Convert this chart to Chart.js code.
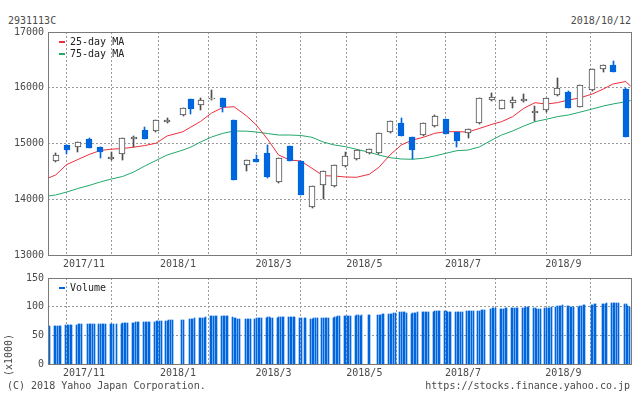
<!DOCTYPE html>
<html>
<head>
<meta charset="utf-8">
<script src="https://cdn.jsdelivr.net/npm/chart.js@4.4.1/dist/chart.umd.min.js"></script>
<style>
    html, body { margin: 0; padding: 0; background: #fff; }
    #wrap {
        position: relative; width: 634px; height: 394px; overflow: hidden;
        font-family: "DejaVu Sans Mono", monospace; font-size: 10px; color: #4a4a4a;
    }
    .txt { position: absolute; line-height: 12px; white-space: nowrap; }
    #priceBox { position: absolute; left: 0; top: 0; width: 634px; height: 280px; }
    #volBox { position: absolute; left: 0; top: 268px; width: 634px; height: 116px; }
</style>
</head>
<body>
<div id="wrap">
    <div class="txt" style="left:8px; top:15px;">2931113C</div>
    <div class="txt" style="right:3px; top:15px;">2018/10/12</div>
    <div id="priceBox"><canvas id="priceChart"></canvas></div>
    <div id="volBox"><canvas id="volChart"></canvas></div>
    <div class="txt" style="left:7px; top:380px;">(C) 2018 Yahoo Japan Corporation.</div>
    <div class="txt" style="right:4px; top:380px;">https://stocks.finance.yahoo.co.jp</div>
</div>

<script>
// weekly candles, first trading day of each week
const weekStarts = [
    "2017-10-16", "2017-10-23", "2017-10-30", "2017-11-06", "2017-11-13", "2017-11-20", "2017-11-27",
    "2017-12-04", "2017-12-11", "2017-12-18", "2017-12-25", "2018-01-04", "2018-01-09", "2018-01-15",
    "2018-01-22", "2018-01-29", "2018-02-05", "2018-02-13", "2018-02-19", "2018-02-26", "2018-03-05",
    "2018-03-12", "2018-03-19", "2018-03-26", "2018-04-02", "2018-04-09", "2018-04-16", "2018-04-23",
    "2018-05-01", "2018-05-07", "2018-05-14", "2018-05-21", "2018-05-28", "2018-06-04", "2018-06-11",
    "2018-06-18", "2018-06-25", "2018-07-02", "2018-07-09", "2018-07-17", "2018-07-23", "2018-07-30",
    "2018-08-06", "2018-08-13", "2018-08-20", "2018-08-27", "2018-09-03", "2018-09-10", "2018-09-18",
    "2018-09-25", "2018-10-01", "2018-10-09"
];
const opens = [
    14681, 14973, 14932, 15081, 14937, 14717, 14817, 15075, 15242, 15219, 15380, 15506, 15798, 15685,
    15790, 15816, 15422, 14609, 14722, 14830, 14304, 14955, 14686, 13856, 14250, 14232, 14591, 14717,
    14824, 14824, 15201, 15373, 15117, 15147, 15309, 15439, 15212, 15183, 15362, 15775, 15619, 15721,
    15757, 15555, 15596, 15865, 15924, 15660, 15954, 16331, 16408, 15983
];
const highs = [
    14835, 14980, 15030, 15090, 14945, 14853, 15100, 15140, 15296, 15420, 15452, 15640, 15805, 15811,
    15960, 15820, 15430, 14710, 14794, 14973, 14745, 14960, 14690, 14240, 14510, 14615, 14848, 14885,
    14900, 15190, 15405, 15463, 15120, 15370, 15511, 15445, 15215, 15260, 15815, 15906, 15780, 15829,
    15883, 15667, 15815, 16180, 15947, 16050, 16335, 16410, 16485, 15990
];
const lows = [
    14675, 14812, 14842, 14915, 14745, 14710, 14709, 14943, 15080, 15212, 15375, 15500, 15535, 15606,
    15785, 15570, 14340, 14512, 14670, 14390, 14295, 14685, 14075, 13850, 14005, 14225, 14585, 14710,
    14820, 14820, 15195, 15135, 14717, 15140, 15300, 15170, 14943, 15093, 15355, 15770, 15612, 15642,
    15752, 15409, 15570, 15860, 15635, 15655, 15950, 16288, 16280, 15115
];
const closes = [
    14794, 14883, 15022, 14925, 14853, 14758, 15093, 15111, 15086, 15416, 15422, 15631, 15613, 15775,
    15815, 15660, 14351, 14704, 14674, 14399, 14735, 14692, 14082, 14232, 14501, 14609, 14770, 14878,
    14896, 15183, 15398, 15140, 14889, 15362, 15488, 15176, 15050, 15255, 15811, 15829, 15775, 15775,
    15798, 15580, 15811, 15996, 15642, 16044, 16331, 16403, 16288, 15122
];

// moving averages, read at the chart edges and at each weekly candle
const maDates = ["2017-10-11", ...weekStarts, "2018-10-12"];
const ma25 = [
    14376, 14435, 14623, 14713, 14803, 14874, 14898, 14910, 14934, 14964, 15004, 15135, 15212, 15296,
    15395, 15547, 15646, 15660, 15493, 15332, 15081, 14794, 14704, 14686, 14555, 14422, 14417, 14399,
    14394, 14448, 14573, 14794, 14973, 15063, 15111, 15183, 15212, 15212, 15206, 15269, 15344, 15391,
    15481, 15631, 15732, 15709, 15732, 15780, 15816, 15888, 15978, 16067, 16112, 16031
];
const ma75 = [
    14058, 14076, 14130, 14193, 14247, 14309, 14363, 14408, 14489, 14596, 14695, 14794, 14883, 14937,
    15027, 15117, 15183, 15224, 15221, 15206, 15179, 15152, 15152, 15144, 15111, 15027, 14973, 14943,
    14896, 14842, 14794, 14745, 14722, 14717, 14735, 14776, 14824, 14871, 14883, 14937, 15063, 15152,
    15224, 15314, 15391, 15434, 15481, 15511, 15560, 15619, 15673, 15709, 15750, 15771
];

// daily volume (x1000), one line per trading week
const holidays = [
    "2017-11-03", "2017-11-23", "2018-01-01", "2018-01-02", "2018-01-03", "2018-01-08", "2018-02-12",
    "2018-03-21", "2018-04-30", "2018-05-03", "2018-05-04", "2018-07-16", "2018-09-17", "2018-09-24",
    "2018-10-08"
];
const volume = [
    66, 66, 66,
    66, 66, 66, 66, 67,
    68, 68, 68, 68, 68,
    68, 69, 70, 70,
    70, 70, 70, 70, 70,
    70, 70, 70, 70, 70,
    70, 70, 70, 70,
    70, 71, 71, 72, 72,
    72, 72, 73, 73, 74,
    73, 73, 73, 73, 73,
    74, 75, 75, 75, 75,
    75, 75, 76, 76, 77,
    77, 77,
    79, 79, 79, 80,
    80, 80, 81, 81, 82,
    83, 83, 83, 83, 83,
    83, 83, 83, 83, 83,
    82, 81, 80, 79, 78,
    78, 78, 78, 79,
    79, 80, 80, 80, 80,
    81, 82, 82, 81, 80,
    81, 82, 82, 82, 82,
    82, 82, 82, 82, 82,
    81, 80, 80, 80,
    79, 78, 80, 80, 80,
    80, 80, 80, 80, 81,
    81, 82, 82, 83, 83,
    84, 84, 84, 84, 84,
    84, 85, 85, 84, 85,
    85, 85,
    85, 86, 86, 87, 87,
    88, 88, 88, 89, 89,
    90, 90, 90, 90, 89,
    88, 89, 89, 89, 90,
    90, 90, 91, 91, 91,
    91, 92, 92, 92, 92,
    92, 92, 91, 91, 91,
    91, 91, 91, 91, 90,
    92, 92, 92, 92, 92,
    93, 93, 94, 94, 95,
    96, 97, 97, 97,
    96, 96, 96, 97, 97,
    97, 97, 98, 98, 98,
    98, 98, 99, 99, 99,
    97, 97, 96, 96, 96,
    97, 97, 98, 98, 99,
    100, 101, 102, 102, 103,
    101, 101, 100, 100, 100,
    100, 101, 102, 103, 103,
    103, 103, 104, 104,
    104, 105, 105, 106,
    106, 106, 106, 107, 107,
    104, 105, 102, 100
];

// axes
const monthTicks = [
    "2017-11-06", "2017-12-04", "2018-01-04", "2018-02-05", "2018-03-05", "2018-04-02",
    "2018-05-01", "2018-06-04", "2018-07-02", "2018-08-06", "2018-09-03", "2018-10-01"
];
const monthLabels = ["2017/11", "", "2018/1", "", "2018/3", "", "2018/5", "", "2018/7", "", "2018/9", ""];
const priceTicks = [13000, 14000, 15000, 16000, 17000];
const volTicks = [0, 50, 100, 150];

const BLUE = "#0066dd";
const DARK = "#4d4d4d";
const RED = "#ee2e3a";
const GREEN = "#22a86a";
const GRID = "#9a9a9a";
const FRAME = "#7a7a7a";

const BASE = Date.UTC(2017, 9, 11);
const X_MIN = 0.23;
const X_MAX = 366.3;
const VOL_SHIFT = -0.8;

function dayNum(s) {
    const [y, m, d] = s.split("-").map(Number);
    return (Date.UTC(y, m - 1, d) - BASE) / 86400000;
}

function tradingDays(from, to) {
    const out = [];
    for (let d = dayNum(from); d <= dayNum(to); d++) {
        const dt = new Date(BASE + d * 86400000);
        const wd = dt.getUTCDay();
        if (wd === 0 || wd === 6) continue;
        if (holidays.includes(dt.toISOString().slice(0, 10))) continue;
        out.push(d);
    }
    return out;
}

Chart.defaults.font.family = '"DejaVu Sans Mono", monospace';
Chart.defaults.font.size = 10;
Chart.defaults.color = "#4a4a4a";

// snap bar edges to whole pixels so thin bars stay crisp
const snapPlugin = {
    id: "snapBars",
    beforeDatasetsDraw(chart) {
        chart.getSortedVisibleDatasetMetas().forEach(meta => {
            if (meta.type !== "bar") return;
            meta.data.forEach(el => {
                el.x = Math.round(el.x - el.width / 2) + el.width / 2;
                el.y = Math.round(el.y);
                el.base = Math.round(el.base);
            });
        });
    }
};

const framePlugin = {
    id: "frame",
    afterDatasetsDraw(chart) {
        const { ctx, chartArea: a } = chart;
        ctx.save();
        ctx.strokeStyle = FRAME;
        ctx.lineWidth = 1;
        ctx.strokeRect(a.left + 0.5, a.top + 0.5, a.right - a.left, a.bottom - a.top);
        ctx.restore();
    }
};

// small legend in the top-left corner of the plot
const legendPlugin = {
    id: "cornerLegend",
    afterDraw(chart) {
        const { ctx, chartArea: a } = chart;
        const items = chart.data.datasets.filter(d => d.label);
        ctx.save();
        ctx.font = '10px "DejaVu Sans Mono", monospace';
        ctx.textBaseline = "middle";
        items.forEach((d, i) => {
            const y = Math.round(a.top + 9.7 + i * 12.3);
            ctx.fillStyle = d.legendColor;
            ctx.fillRect(a.left + 11, y - 1, 6, 2);
            ctx.fillStyle = "#222";
            ctx.fillText(d.label, a.left + 22, y + 0.5);
        });
        ctx.restore();
    }
};

const volTitlePlugin = {
    id: "volTitle",
    afterDraw(chart) {
        const ctx = chart.ctx;
        ctx.save();
        ctx.font = '10px "DejaVu Sans Mono", monospace';
        ctx.fillStyle = "#4a4a4a";
        ctx.translate(9, 87);
        ctx.rotate(-Math.PI / 2);
        ctx.textAlign = "center";
        ctx.textBaseline = "middle";
        ctx.fillText("(x1000)", 0, 0);
        ctx.restore();
    }
};

function xScale(height) {
    return {
        type: "linear",
        min: X_MIN,
        max: X_MAX,
        offset: false,
        afterBuildTicks: s => { s.ticks = monthTicks.map(d => ({ value: dayNum(d) })); },
        afterFit: s => { s.height = height; },
        grid: { color: GRID, drawTicks: false },
        border: { display: false, dash: [2, 2] },
        ticks: {
            autoSkip: false,
            maxRotation: 0,
            padding: 3,
            labelOffset: -5,
            callback: (v, i) => monthLabels[i]
        }
    };
}

function yScale(min, max, tickValues) {
    return {
        min: min,
        max: max,
        afterBuildTicks: s => { s.ticks = tickValues.map(v => ({ value: v })); },
        afterFit: s => { s.width = 48; },
        grid: {
            drawTicks: false,
            color: c => (c.tick.value === min || c.tick.value === max) ? "rgba(0,0,0,0)" : GRID
        },
        border: { display: false, dash: [2, 2] },
        ticks: { padding: 4, callback: v => String(v) }
    };
}

const up = closes.map((c, i) => c >= opens[i]);

const priceChart = new Chart(document.getElementById("priceChart"), {
    type: "bar",
    data: {
        datasets: [
            {
                data: weekStarts.map((w, i) => ({ x: dayNum(w), y: [opens[i], closes[i]] })),
                backgroundColor: up.map(u => u ? "#ffffff" : BLUE),
                borderColor: up.map(u => u ? DARK : BLUE),
                borderWidth: 1,
                borderSkipped: false,
                barThickness: 6,
                grouped: false
            },
            {
                data: weekStarts.map((w, i) => ({ x: dayNum(w), y: [lows[i], highs[i]] })),
                backgroundColor: up.map(u => u ? DARK : BLUE),
                barThickness: 1,
                grouped: false
            },
            {
                type: "line",
                label: "25-day MA",
                legendColor: RED,
                data: maDates.map((d, i) => ({ x: dayNum(d), y: ma25[i] })),
                borderColor: RED,
                borderWidth: 1,
                pointRadius: 0,
                tension: 0
            },
            {
                type: "line",
                label: "75-day MA",
                legendColor: GREEN,
                data: maDates.map((d, i) => ({ x: dayNum(d), y: ma75[i] })),
                borderColor: GREEN,
                borderWidth: 1,
                pointRadius: 0,
                tension: 0
            }
        ]
    },
    options: {
        animation: false,
        responsive: true,
        maintainAspectRatio: false,
        events: [],
        layout: { padding: { left: 0, top: 32, right: 3, bottom: 0 } },
        plugins: { legend: { display: false }, tooltip: { enabled: false } },
        scales: {
            x: xScale(25),
            y: yScale(13000, 17000, priceTicks)
        }
    },
    plugins: [snapPlugin, framePlugin, legendPlugin]
});

const volDays = tradingDays("2017-10-11", "2018-10-12");

const volChart = new Chart(document.getElementById("volChart"), {
    type: "bar",
    data: {
        datasets: [{
            label: "Volume",
            legendColor: BLUE,
            data: volDays.map((d, i) => ({ x: d + VOL_SHIFT, y: volume[i] })),
            backgroundColor: BLUE,
            barThickness: 1,
            grouped: false
        }]
    },
    options: {
        animation: false,
        responsive: true,
        maintainAspectRatio: false,
        events: [],
        layout: { padding: { left: 0, top: 10, right: 3, bottom: 0 } },
        plugins: { legend: { display: false }, tooltip: { enabled: false } },
        scales: {
            x: xScale(20),
            y: yScale(0, 150, volTicks)
        }
    },
    plugins: [snapPlugin, framePlugin, legendPlugin, volTitlePlugin]
});
</script>
</body>
</html>
